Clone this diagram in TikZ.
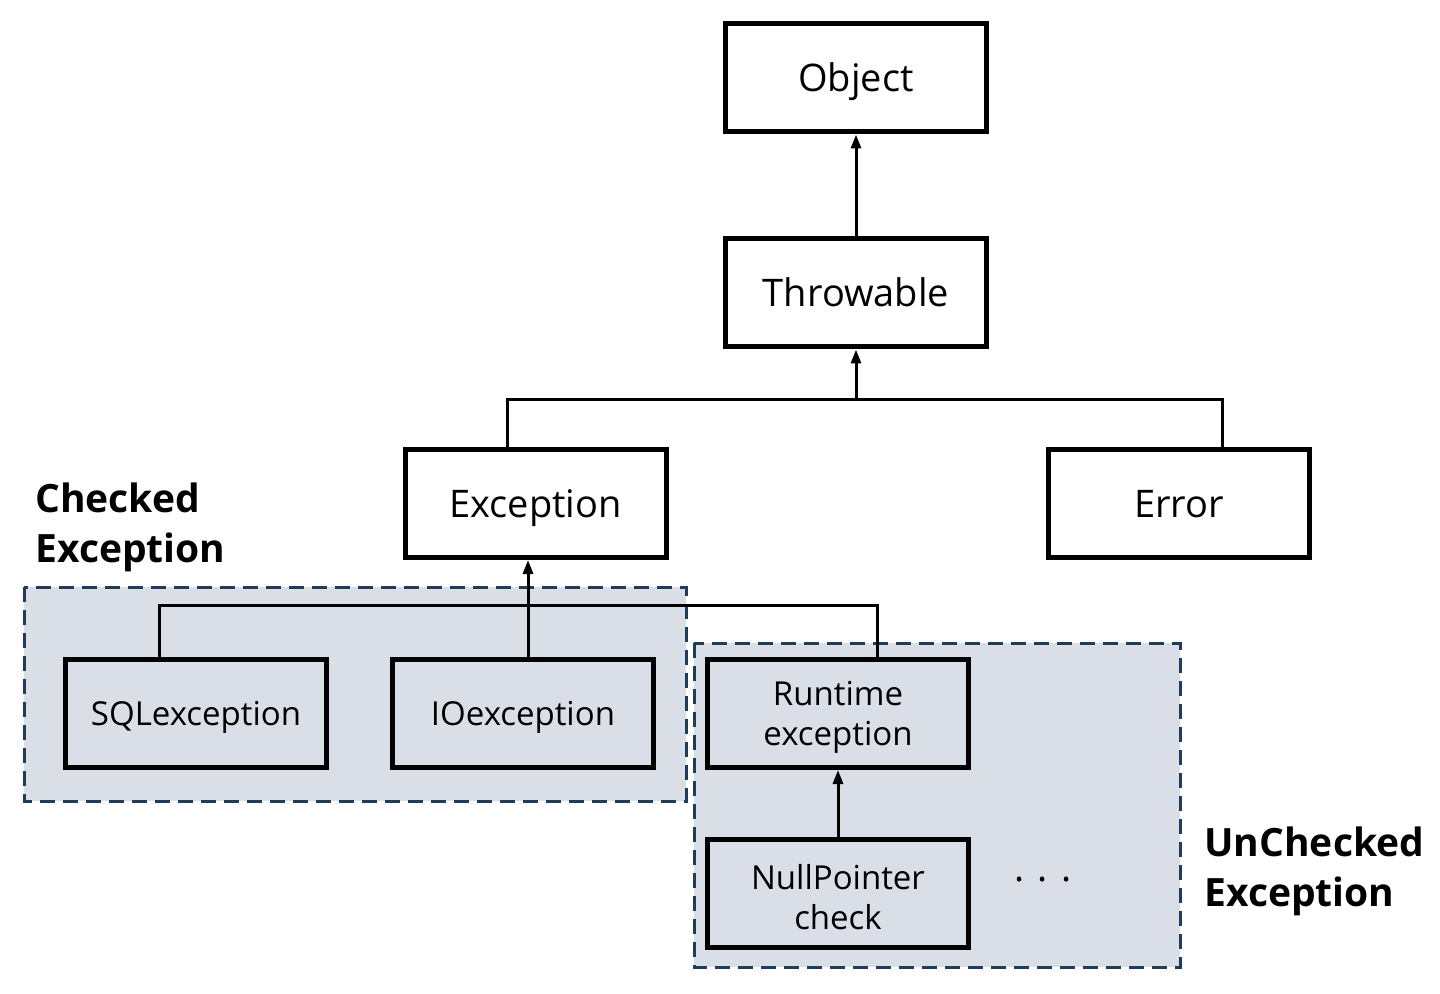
\documentclass[tikz,border=0pt]{standalone}
\usepackage{fontspec}
\setmainfont{Open Sans}
\usepackage{xcolor}
\usetikzlibrary{positioning,arrows.meta,calc}
\definecolor{grpfill}{RGB}{217,222,231}
\definecolor{grpline}{RGB}{31,61,90}
\tikzset{
  clsbox/.style={draw, line width=2.5pt, minimum width=130.5pt,
    minimum height=54pt, align=center, inner sep=2pt,
    font=\fontsize{19}{20}\selectfont},
  onebox/.style={text height=13.5pt, text depth=0pt},
  rootbox/.style={clsbox, onebox, fill=white},
  leafbox/.style={clsbox, font=\fontsize{16.5}{20}\selectfont},
  grp/.style={draw=grpline, fill=grpfill, line width=1.5pt,
    dash pattern=on 7.5pt off 4pt},
  tag/.style={font=\bfseries\fontsize{19.5}{25}\selectfont, align=left,
    anchor=north west, inner sep=0pt},
  link/.style={line width=1.5pt},
  arr/.style={link, -{Triangle[length=7pt,width=5pt]}}
}
\begin{document}
\begin{tikzpicture}[x=0.5pt, y=-0.5pt]
    \useasboundingbox (0,0) rectangle (1440,994);

    % ---------- groups ----------
    \draw[grp] (24,587) rectangle (686,801);
    \draw[grp] (694,643) rectangle (1180,967);

    % ---------- top of the tree ----------
    \node[rootbox] (obj) at (856,78) {Object};
    \node[rootbox, below=51pt of obj] (thr) {Throwable};
    \node[rootbox] (exc) at (535.5,503.5) {Exception};
    \node[rootbox] (err) at (1179,503.5) {Error};
    \coordinate (hub1) at (856,400);

    \draw[arr] (thr) -- (obj);
    \draw[link] ([xshift=-14.25pt]exc.north) |- (hub1) -| ([xshift=21.5pt]err.north);
    \draw[arr] (hub1) -- (thr);

    % ---------- checked ----------
    \node[leafbox, onebox, text height=12pt] (sql) at (196,713.5) {SQLexception};
    \node[leafbox, onebox, text height=12pt, right=30.5pt of sql] (io) {IOexception};
    \node[tag] (chklbl) at (35,482) {Checked\\Exception};

    % ---------- unchecked ----------
    \node[leafbox] (rt) at (838,713.5) {\rule{0pt}{16pt}Runtime\\exception};
    \node[leafbox, below=33.5pt of rt] (npc) {\rule{0pt}{16pt}NullPointer\\check};
    \node[font=\fontsize{19}{20}\selectfont] (dots) at (1043,880)
      {.\hspace{6.8pt}.\hspace{6.8pt}.};
    \node[tag] (unclbl) at (1204,826) {UnChecked\\Exception};

    \coordinate (hub2) at (528,605);
    \draw[link] ([xshift=-18.5pt]sql.north) |- (hub2) -| ([xshift=19.5pt]rt.north);
    \draw[arr] (io.north -| hub2) -- (exc.south -| hub2);
    \draw[arr] (npc) -- (rt);

  \end{tikzpicture}
\end{document}
